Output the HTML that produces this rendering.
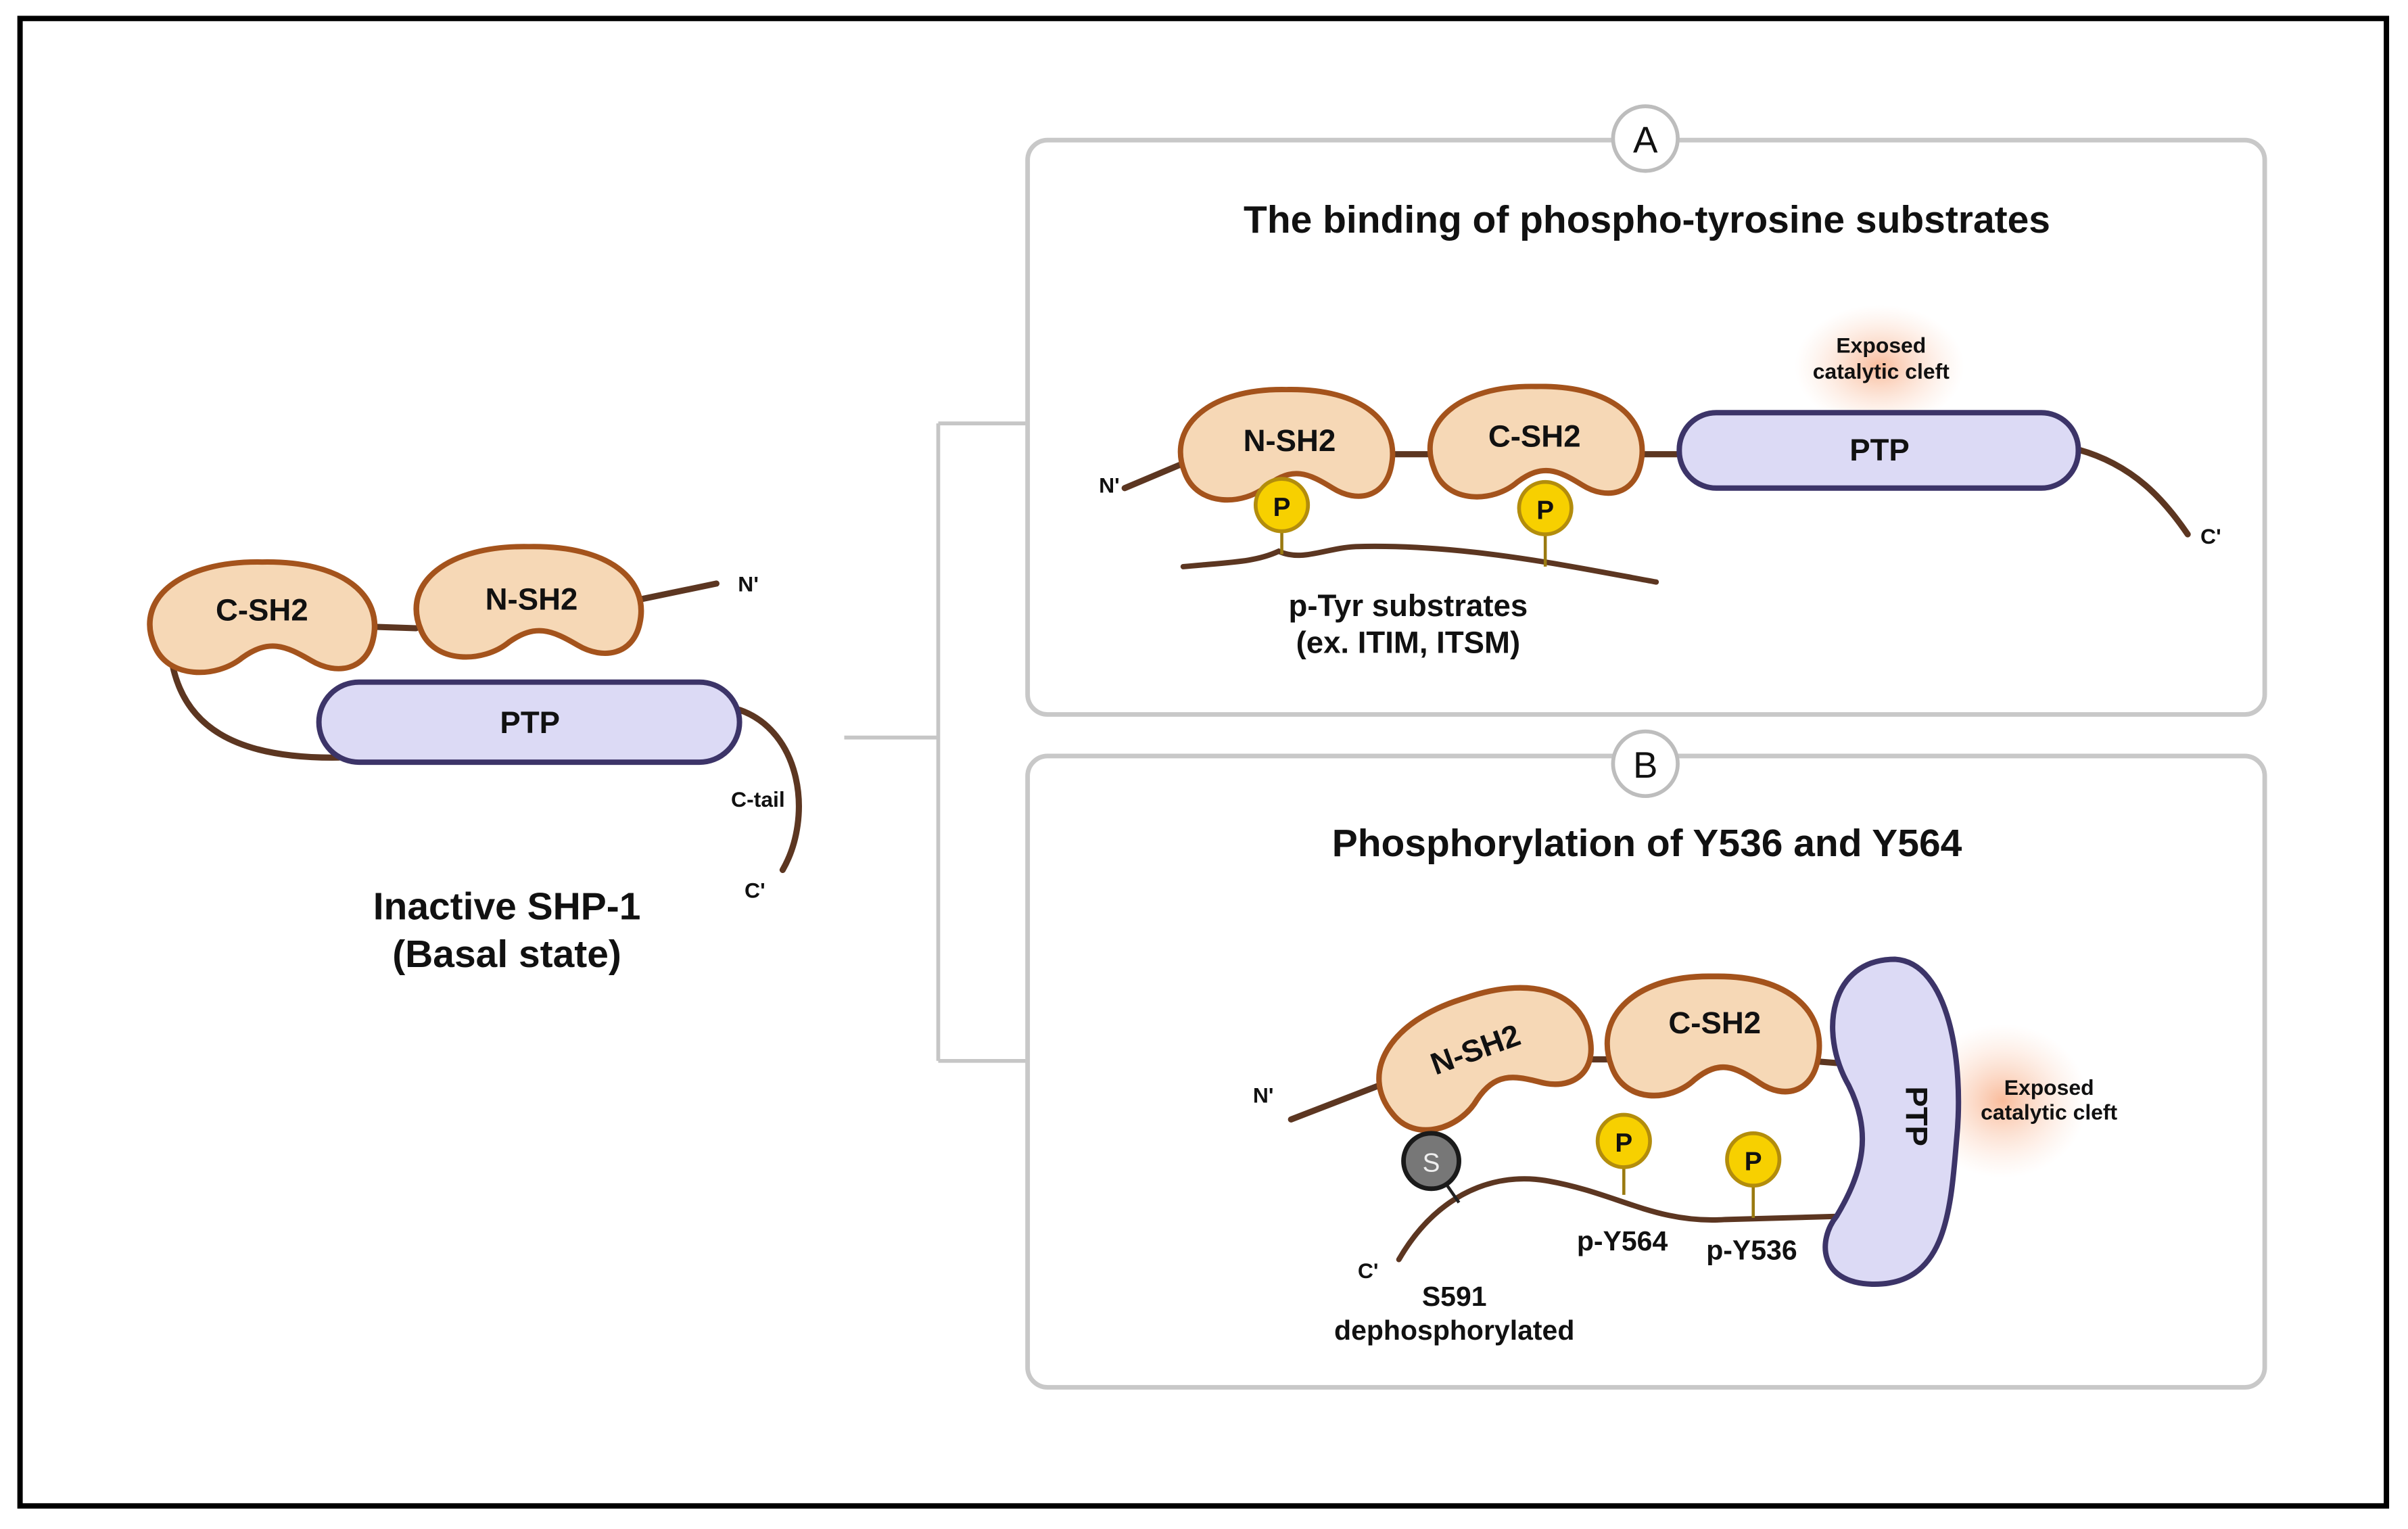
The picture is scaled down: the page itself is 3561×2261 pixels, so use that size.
<!DOCTYPE html>
<html><head><meta charset="utf-8"><style>
html,body{margin:0;padding:0;background:#fff}
svg{display:block}
text{font-family:"Liberation Sans Narrow","Liberation Sans",sans-serif;font-weight:bold;fill:#111}
</style></head><body>
<svg width="3561" height="2261" viewBox="0 0 1563 993" preserveAspectRatio="none" xmlns="http://www.w3.org/2000/svg">
<defs>
<path id="bean" d="M -64,18 C -76,-12 -48,-37 2,-36 C 52,-37 76,-14 70,14 C 66,34 48,38 32,28 C 16,18 6,14 -10,26 C -26,40 -56,40 -64,18 Z" fill="#f6d8b6" stroke="#a4531c" stroke-width="3.5"/>
<radialGradient id="glow"><stop offset="0" stop-color="#f7a57a" stop-opacity="0.75"/><stop offset="1" stop-color="#fbd2bb" stop-opacity="0"/></radialGradient>
</defs>
<rect x="0" y="0" width="1563" height="993" fill="#fff"/>
<rect x="13" y="12" width="1536" height="966" fill="none" stroke="#000" stroke-width="3.5"/>

<!-- Left -->
<g fill="none" stroke="#5c3621" stroke-width="4" stroke-linecap="round">
<path d="M 240,407 L 270,408"/>
<path d="M 412,390 L 465,379"/>
<path d="M 112,432 C 120,470 150,493 220,492"/>
<path d="M 480,461 C 520,475 528,530 508,565"/>
</g>
<use href="#bean" transform="translate(168,401) scale(1.06,1)"/>
<use href="#bean" transform="translate(341,391) scale(1.06,1)"/>
<rect x="207" y="443" width="273" height="52" rx="26" fill="#dcdaf5" stroke="#3c3468" stroke-width="3.5"/>
<text x="170" y="403" font-size="20" text-anchor="middle">C-SH2</text>
<text x="345" y="396" font-size="20" text-anchor="middle">N-SH2</text>
<text x="344" y="476" font-size="20" text-anchor="middle">PTP</text>
<text x="479" y="384" font-size="14">N'</text>
<text x="492" y="524" font-size="14" text-anchor="middle">C-tail</text>
<text x="490" y="583" font-size="14" text-anchor="middle">C'</text>
<text x="329" y="597" font-size="25" text-anchor="middle">Inactive SHP-1</text>
<text x="329" y="628" font-size="25" text-anchor="middle">(Basal state)</text>

<!-- connectors -->
<g fill="none" stroke="#c6c6c6" stroke-width="2.5">
<path d="M 548,479 L 609,479 M 609,275 L 609,689 M 609,275 L 667,275 M 609,689 L 667,689"/>
</g>

<!-- Panel A -->
<rect x="667" y="91" width="803" height="373" rx="13" fill="none" stroke="#c8c8c8" stroke-width="3"/>
<circle cx="1068" cy="90" r="21" fill="#fff" stroke="#bdbdbd" stroke-width="2.5"/>
<text x="1068" y="99" font-size="24" text-anchor="middle" style="font-weight:normal">A</text>
<text x="1069" y="151" font-size="25" text-anchor="middle">The binding of phospho-tyrosine substrates</text>
<ellipse cx="1220" cy="238" rx="55" ry="40" fill="url(#glow)"/>
<text x="1221" y="229" font-size="14" text-anchor="middle">Exposed</text>
<text x="1221" y="246" font-size="14" text-anchor="middle">catalytic cleft</text>
<g fill="none" stroke="#5c3621" stroke-width="4" stroke-linecap="round">
<path d="M 730,317 L 768,301"/>
<path d="M 900,295 L 930,295 M 1062,295 L 1092,295"/>
<path d="M 1349,292 C 1385,302 1405,325 1420,347"/>
<path d="M 768,368 C 800,365 815,365 830,358 C 845,365 860,356 880,355 C 950,353 1020,368 1075,378" stroke-width="3.5"/>
</g>
<use href="#bean" transform="translate(833,289)"/>
<use href="#bean" transform="translate(995,287)"/>
<rect x="1090" y="268" width="259" height="49" rx="24" fill="#dcdaf5" stroke="#3c3468" stroke-width="3.5"/>
<text x="837" y="293" font-size="20" text-anchor="middle">N-SH2</text>
<text x="996" y="290" font-size="20" text-anchor="middle">C-SH2</text>
<text x="1220" y="299" font-size="20" text-anchor="middle">PTP</text>
<text x="720" y="320" font-size="14" text-anchor="middle">N'</text>
<text x="1435" y="353" font-size="14" text-anchor="middle">C'</text>
<g stroke="#9a7a10" stroke-width="2"><path d="M 832,345 L 832,360 M 1003,347 L 1003,368"/></g>
<circle cx="832" cy="328" r="17" fill="#f7d000" stroke="#b38d0c" stroke-width="2.5"/>
<circle cx="1003" cy="330" r="17" fill="#f7d000" stroke="#b38d0c" stroke-width="2.5"/>
<text x="832" y="335" font-size="17" text-anchor="middle">P</text>
<text x="1003" y="337" font-size="17" text-anchor="middle">P</text>
<text x="914" y="400" font-size="20" text-anchor="middle">p-Tyr substrates</text>
<text x="914" y="424" font-size="20" text-anchor="middle">(ex. ITIM, ITSM)</text>

<!-- Panel B -->
<rect x="667" y="491" width="803" height="410" rx="13" fill="none" stroke="#c8c8c8" stroke-width="3"/>
<circle cx="1068" cy="496" r="21" fill="#fff" stroke="#bdbdbd" stroke-width="2.5"/>
<text x="1068" y="505" font-size="24" text-anchor="middle" style="font-weight:normal">B</text>
<text x="1069" y="556" font-size="25" text-anchor="middle">Phosphorylation of Y536 and Y564</text>
<ellipse cx="1300" cy="715" rx="55" ry="50" fill="url(#glow)"/>
<text x="1330" y="711" font-size="14" text-anchor="middle">Exposed</text>
<text x="1330" y="727" font-size="14" text-anchor="middle">catalytic cleft</text>
<g fill="none" stroke="#5c3621" stroke-width="4" stroke-linecap="round">
<path d="M 838,727 L 895,705"/>
<path d="M 1020,688 L 1045,688 M 1175,689 L 1200,691"/>
<path d="M 908,818 C 930,780 965,760 1005,767 C 1050,775 1075,795 1120,792 L 1192,790" stroke-width="3.5"/>
</g>
<use href="#bean" transform="translate(960,685) rotate(-18) scale(1.02,1.05)"/>
<use href="#bean" transform="translate(1110,673) scale(1,1.08)"/>
<path d="M 1230,623 C 1265,625 1275,690 1270,740 C 1266,790 1262,835 1215,834 C 1180,833 1180,805 1192,790 C 1210,760 1215,735 1200,705 C 1180,670 1188,623 1230,623 Z" fill="#dcdaf5" stroke="#3c3468" stroke-width="3.5"/>
<text x="0" y="0" font-size="20" text-anchor="middle" transform="translate(1237,725) rotate(90)">PTP</text>
<text x="960" y="688" font-size="20" text-anchor="middle" transform="rotate(-20 960 688)">N-SH2</text>
<text x="1113" y="671" font-size="20" text-anchor="middle">C-SH2</text>
<text x="820" y="716" font-size="14" text-anchor="middle">N'</text>
<text x="888" y="830" font-size="14" text-anchor="middle">C'</text>
<path d="M 938,768 L 947,781" stroke="#222" stroke-width="2"/>
<circle cx="929" cy="754" r="18" fill="#777" stroke="#1a1a1a" stroke-width="3"/>
<text x="929" y="761" font-size="17" text-anchor="middle" style="fill:#eee;font-weight:normal">S</text>
<g stroke="#9a7a10" stroke-width="2"><path d="M 1054,758 L 1054,776 M 1138,770 L 1138,791"/></g>
<circle cx="1054" cy="741" r="17" fill="#f7d000" stroke="#b38d0c" stroke-width="2.5"/>
<circle cx="1138" cy="753" r="17" fill="#f7d000" stroke="#b38d0c" stroke-width="2.5"/>
<text x="1054" y="748" font-size="17" text-anchor="middle">P</text>
<text x="1138" y="760" font-size="17" text-anchor="middle">P</text>
<text x="1053" y="812" font-size="18" text-anchor="middle">p-Y564</text>
<text x="1137" y="818" font-size="18" text-anchor="middle">p-Y536</text>
<text x="944" y="848" font-size="18" text-anchor="middle">S591</text>
<text x="944" y="870" font-size="18" text-anchor="middle">dephosphorylated</text>
</svg>
</body></html>
